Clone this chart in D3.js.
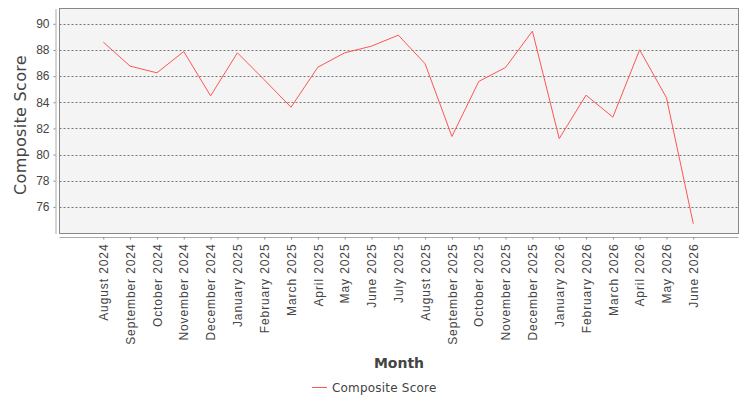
<!DOCTYPE html>
<html>
<head>
<meta charset="utf-8">
<script src="https://cdn.jsdelivr.net/npm/d3@7/dist/d3.min.js"></script>
<style>
  body { margin: 0; background: #fff; }
  svg { display: block; font-family: "DejaVu Sans", sans-serif; }
</style>
</head>
<body>
<svg id="chart" width="750" height="400"></svg>
<script>
// data
const months = [
  'August 2024', 'September 2024', 'October 2024', 'November 2024', 'December 2024',
  'January 2025', 'February 2025', 'March 2025', 'April 2025', 'May 2025', 'June 2025',
  'July 2025', 'August 2025', 'September 2025', 'October 2025', 'November 2025',
  'December 2025', 'January 2026', 'February 2026', 'March 2026', 'April 2026',
  'May 2026', 'June 2026'
]
const compositeScore = [
  88.6, 86.76, 86.25, 87.88, 84.49, 87.78, 85.72, 83.62, 86.68, 87.78, 88.29,
  89.13, 86.94, 81.38, 85.59, 86.66, 89.44, 81.22, 84.54, 82.86, 88.01, 84.34, 74.7
]
const yTicks = [76, 78, 80, 82, 84, 86, 88, 90]
const seriesName = 'Composite Score'

const plot = { left: 59.5, right: 738.5, top: 8.5, bottom: 233.5 }
const svg = d3.select('#chart')

const x = d3.scalePoint()
  .domain(months)
  .range([plot.left + 43.8, plot.right - 45.2])

const y = d3.scaleLinear()
  .domain([73.96, 91.17])
  .range([plot.bottom, plot.top])

// plot background
svg.append('rect')
  .attr('x', plot.left)
  .attr('y', plot.top)
  .attr('width', plot.right - plot.left)
  .attr('height', plot.bottom - plot.top)
  .attr('fill', '#f4f4f4')

// grid lines
svg.append('g')
  .selectAll('line')
  .data(yTicks)
  .enter()
  .append('line')
  .attr('x1', plot.left)
  .attr('x2', plot.right)
  .attr('y1', d => Math.round(y(d)) + 0.5)
  .attr('y2', d => Math.round(y(d)) + 0.5)
  .attr('stroke', '#777')
  .attr('stroke-width', 1)
  .attr('stroke-dasharray', '2,2')

// plot border
svg.append('rect')
  .attr('x', plot.left)
  .attr('y', plot.top)
  .attr('width', plot.right - plot.left)
  .attr('height', plot.bottom - plot.top)
  .attr('fill', 'none')
  .attr('stroke', '#888')

// y axis
const yAxis = svg.append('g')
  .attr('transform', `translate(${plot.left - 4},0)`)
  .call(d3.axisLeft(y).tickValues(yTicks).tickSize(2).tickPadding(4).tickSizeOuter(0))
yAxis.select('.domain').attr('stroke', '#aaa')
yAxis.selectAll('.tick line').attr('stroke', '#888')
yAxis.selectAll('.tick text')
  .attr('fill', '#444')
  .style('font-size', '12px')

// x axis
const xAxis = svg.append('g')
  .attr('transform', `translate(0,${plot.bottom + 4})`)
  .call(d3.axisBottom(x).tickSize(2).tickSizeOuter(0))
xAxis.select('.domain')
  .attr('stroke', '#aaa')
  .attr('d', `M${plot.left},0H${plot.right}`)
xAxis.selectAll('.tick line').attr('stroke', '#888')
xAxis.selectAll('.tick text')
  .attr('fill', '#444')
  .style('font-size', '12px')
  .style('letter-spacing', '0.9px')
  .attr('text-anchor', 'end')
  .attr('dy', '0.35em')
  .attr('transform', 'translate(0,6) rotate(-90)')
  .attr('x', 0)
  .attr('y', 0)

// series line
const line = d3.line()
  .x((d, i) => x(months[i]))
  .y(d => y(d))

svg.append('path')
  .datum(compositeScore)
  .attr('d', line)
  .attr('fill', 'none')
  .attr('stroke', '#ff5555')
  .attr('stroke-width', 1)

// axis titles
svg.append('text')
  .attr('transform', `translate(26,${(plot.top + plot.bottom) / 2 + 4}) rotate(-90)`)
  .attr('text-anchor', 'middle')
  .attr('fill', '#444')
  .style('font-size', '16px')
  .style('letter-spacing', '0.3px')
  .text('Composite Score')

svg.append('text')
  .attr('x', (plot.left + plot.right) / 2)
  .attr('y', 368)
  .attr('text-anchor', 'middle')
  .attr('fill', '#444')
  .style('font-size', '14px')
  .style('font-weight', 'bold')
  .text('Month')

// legend
const legend = svg.append('g').attr('transform', 'translate(312,387.5)')
legend.append('line')
  .attr('x1', 0)
  .attr('x2', 15)
  .attr('stroke', '#ff5555')
legend.append('text')
  .attr('x', 20)
  .attr('dy', '0.35em')
  .attr('fill', '#444')
  .style('font-size', '12px')
  .style('letter-spacing', '0.2px')
  .text(seriesName)
</script>
</body>
</html>
